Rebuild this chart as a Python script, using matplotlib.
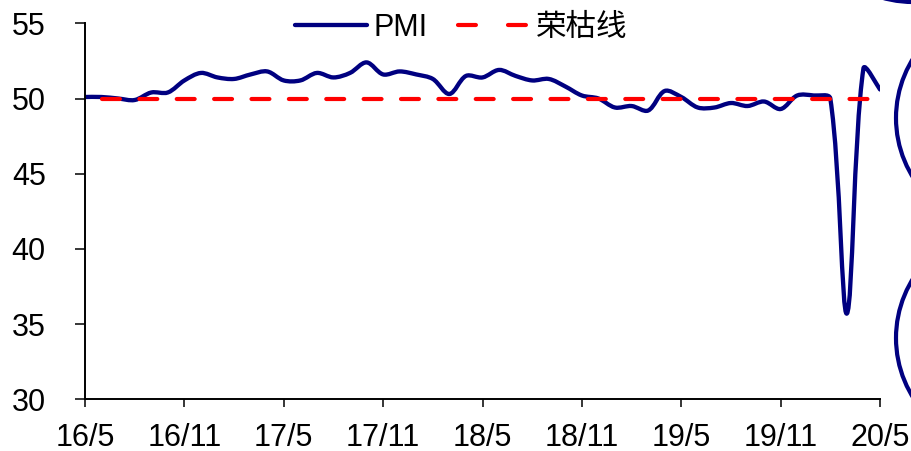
import numpy as np
import matplotlib
matplotlib.use("Agg")
import matplotlib.pyplot as plt
from matplotlib.path import Path
from matplotlib.patches import PathPatch, Ellipse
from matplotlib.lines import Line2D

plt.rcParams['font.family'] = ['Liberation Sans', 'Noto Sans CJK SC', 'DejaVu Sans']

# monthly manufacturing PMI, one value per month on the category axis
pmi = [50.1, 50.1, 50.0, 49.9, 50.4, 50.4, 51.2, 51.7, 51.4, 51.3, 51.6, 51.8,
       51.2, 51.2, 51.7, 51.4, 51.7, 52.4, 51.6, 51.8, 51.6, 51.3, 50.3, 51.5,
       51.4, 51.9, 51.5, 51.2, 51.3, 50.8, 50.2, 50.0, 49.4, 49.5, 49.2, 50.5,
       50.1, 49.4, 49.4, 49.7, 49.5, 49.8, 49.3, 50.2, 50.2, 50.0, 35.7, 52.0,
       50.6]
boom_bust = [np.nan] + [50.0] * 48
tick_labels = ["16/5", "16/11", "17/5", "17/11", "18/5", "18/11",
               "19/5", "19/11", "20/5"]
y_ticks = [30, 35, 40, 45, 50, 55]

NAVY = "#000080"
RED = "#FF0000"


def smooth_path(ax, x, y):
    # excel-like smoothed line: bezier through each point, control arms
    # scaled by neighbouring segment lengths on screen to limit overshoot
    data = np.column_stack([x, y]).astype(float)
    scr = ax.transData.transform(data)
    n = len(scr)
    verts = [scr[0]]
    codes = [Path.MOVETO]
    for i in range(n - 1):
        p0 = scr[max(i - 1, 0)]
        p1 = scr[i]
        p2 = scr[i + 1]
        p3 = scr[min(i + 2, n - 1)]
        d01 = np.hypot(*(p1 - p0))
        d12 = np.hypot(*(p2 - p1))
        d23 = np.hypot(*(p3 - p2))
        f1 = d12 / (d01 + d12) / 3.0 if d01 > 0 else 1 / 6
        f2 = d12 / (d12 + d23) / 3.0 if d23 > 0 else 1 / 6
        c1 = p1 + (p2 - p0) * f1
        c2 = p2 - (p3 - p1) * f2
        verts += [c1, c2, p2]
        codes += [Path.CURVE4] * 3
    verts = ax.transData.inverted().transform(np.array(verts))
    return Path(verts, codes)


fig = plt.figure(figsize=(9.11, 4.51), dpi=100)
ax = fig.add_axes([85 / 911, (451 - 399.3) / 451, 795 / 911, 376 / 451])

x = np.arange(len(pmi))
ax.set_xlim(0, len(pmi) - 1)
ax.set_ylim(30, 55)

ax.add_patch(PathPatch(smooth_path(ax, x, pmi), facecolor="none", edgecolor=NAVY,
                       lw=3.1, capstyle="round", joinstyle="round", zorder=2))
ax.plot(x, boom_bust, color=RED, lw=3.0, dashes=(4.3, 4.67),
        dash_capstyle="round", zorder=3)

ax.set_xticks(x[::6])
ax.set_xticklabels(tick_labels)
ax.set_yticks(y_ticks)
for s in ["top", "right"]:
    ax.spines[s].set_visible(False)
for s in ["left", "bottom"]:
    ax.spines[s].set_linewidth(1.4)
ax.tick_params(axis="y", length=7.2, width=1.1, pad=21, labelsize=22)
ax.tick_params(axis="x", length=5.8, width=1.1, pad=11, labelsize=22)

h_pmi = Line2D([], [], color=NAVY, lw=3.1, solid_capstyle="round")
h_bb = Line2D([], [], color=RED, lw=3.0, dashes=(4.3, 7.7), dash_capstyle="round")
ax.legend([h_pmi, h_bb], ["PMI", "荣枯线"], ncol=2, frameon=False, fontsize=22,
          handlelength=2.36, handletextpad=0.2, columnspacing=1.0,
          loc="center", bbox_to_anchor=(461.5 / 911, 1 - 28 / 451),
          bbox_transform=fig.transFigure, borderaxespad=0, borderpad=0)

# partial circles at the right edge of the slide
for cx, cy in [(10.08, 3.33), (10.08, 1.13), (9.13, 5.61)]:
    fig.add_artist(Ellipse((cx, cy), 2.24, 2.24, transform=fig.dpi_scale_trans,
                           fill=False, edgecolor=NAVY, lw=3.0))

fig.savefig("out.png", dpi=100)
